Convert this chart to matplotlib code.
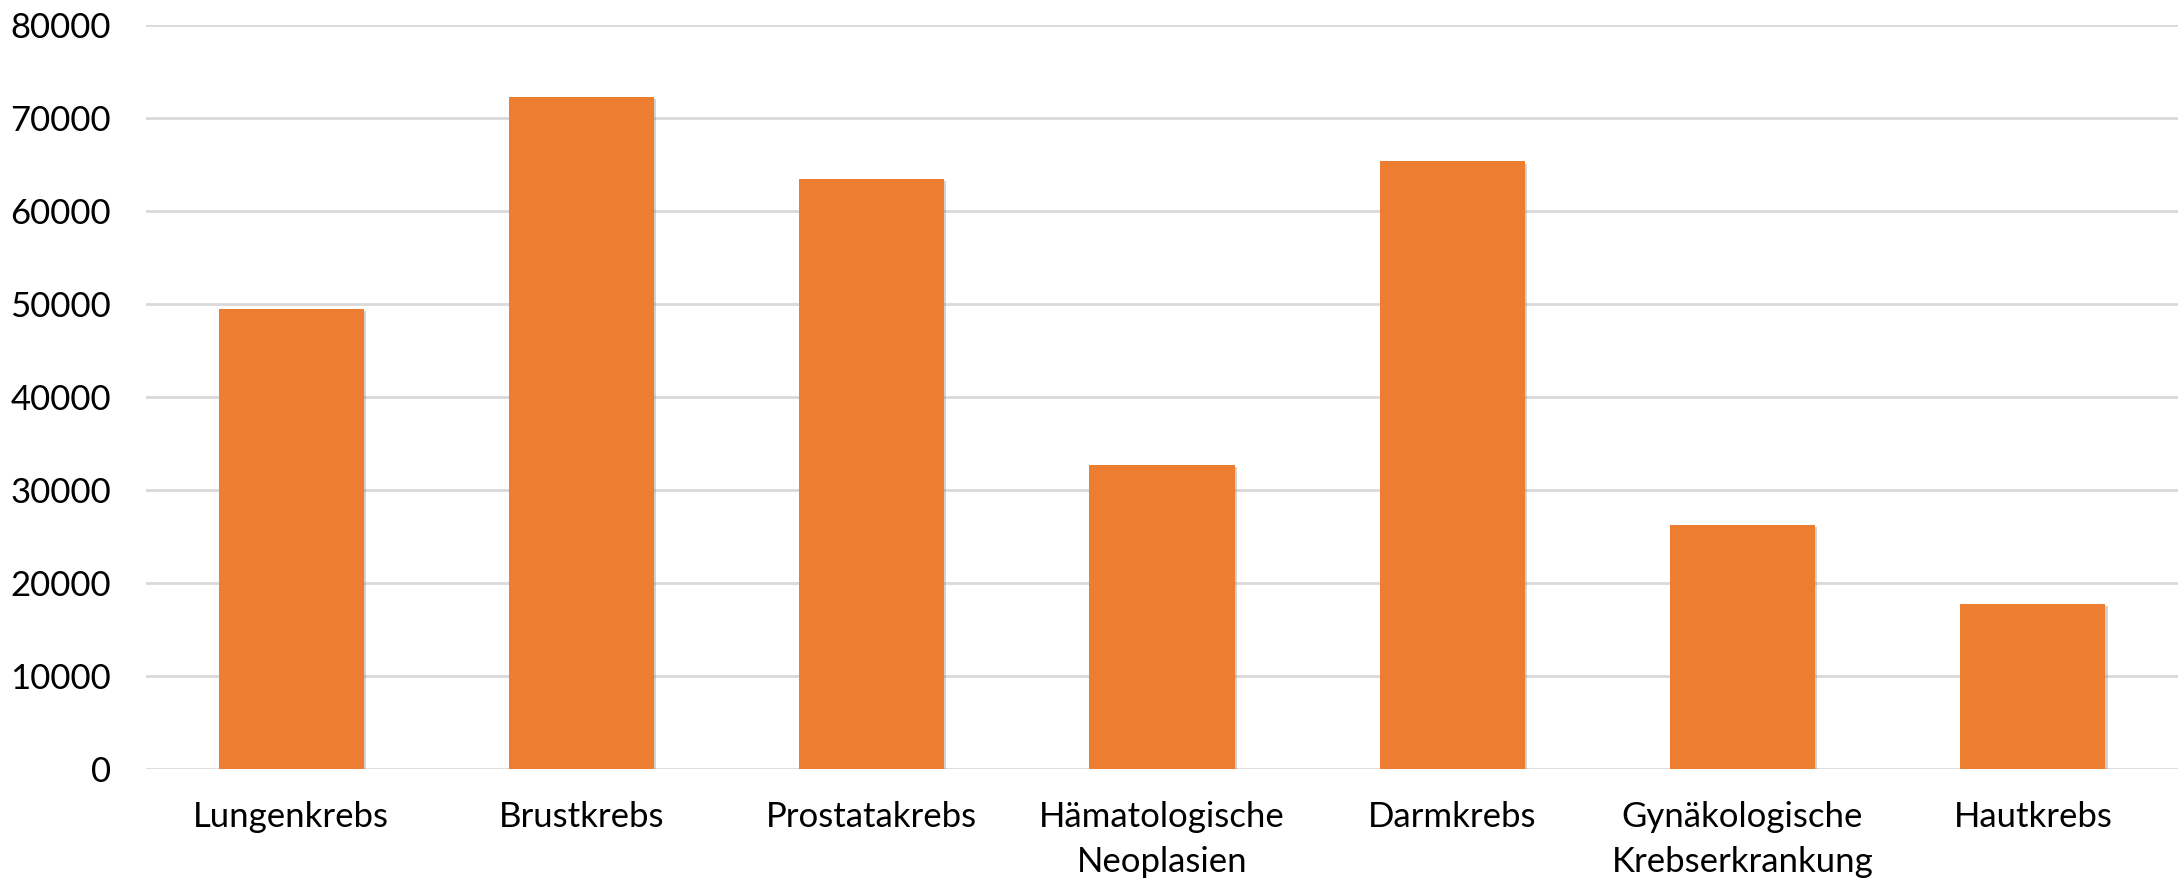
import matplotlib
matplotlib.use("Agg")
import matplotlib.pyplot as plt
import matplotlib.patheffects as pe

categories = ["Lungenkrebs", "Brustkrebs", "Prostatakrebs", "Hämatologische\nNeoplasien",
              "Darmkrebs", "Gynäkologische\nKrebserkrankung", "Hautkrebs"]
values = [49500, 72200, 63400, 32700, 65300, 26200, 17700]
yticks = [0, 10000, 20000, 30000, 40000, 50000, 60000, 70000, 80000]

plt.rcParams['font.family'] = ['Lato', 'DejaVu Sans']

fig = plt.figure(figsize=(21.78, 8.82), dpi=100)
ax = fig.add_axes([0.067, 0.128, 0.933, 0.844])

x = list(range(len(categories)))
bars = ax.bar(x, values, width=0.5, color="#ED7D31", zorder=3)
for b in bars:
    b.set_path_effects([pe.SimplePatchShadow(offset=(1.5, -1.5), shadow_rgbFace="#808080", alpha=0.35),
                        pe.Normal()])

ax.set_xlim(-0.5, 6.5)
ax.set_ylim(0, 80000)
ax.set_yticks(yticks)
ax.set_yticklabels([str(v) for v in yticks])
ax.set_xticks(x)
ax.set_xticklabels(categories, linespacing=1.5)
ax.tick_params(axis='both', length=0, labelsize=25, colors="#000000")
ax.tick_params(axis='y', pad=25)
ax.tick_params(axis='x', pad=23)
for lab in ax.get_xticklabels():
    lab.set_verticalalignment('top')

ax.yaxis.grid(True, color="#d9d9d9", linewidth=2, zorder=0)
ax.set_axisbelow(True)
for s in ax.spines.values():
    s.set_visible(False)

fig.savefig("out.png", dpi=100, facecolor="white")
